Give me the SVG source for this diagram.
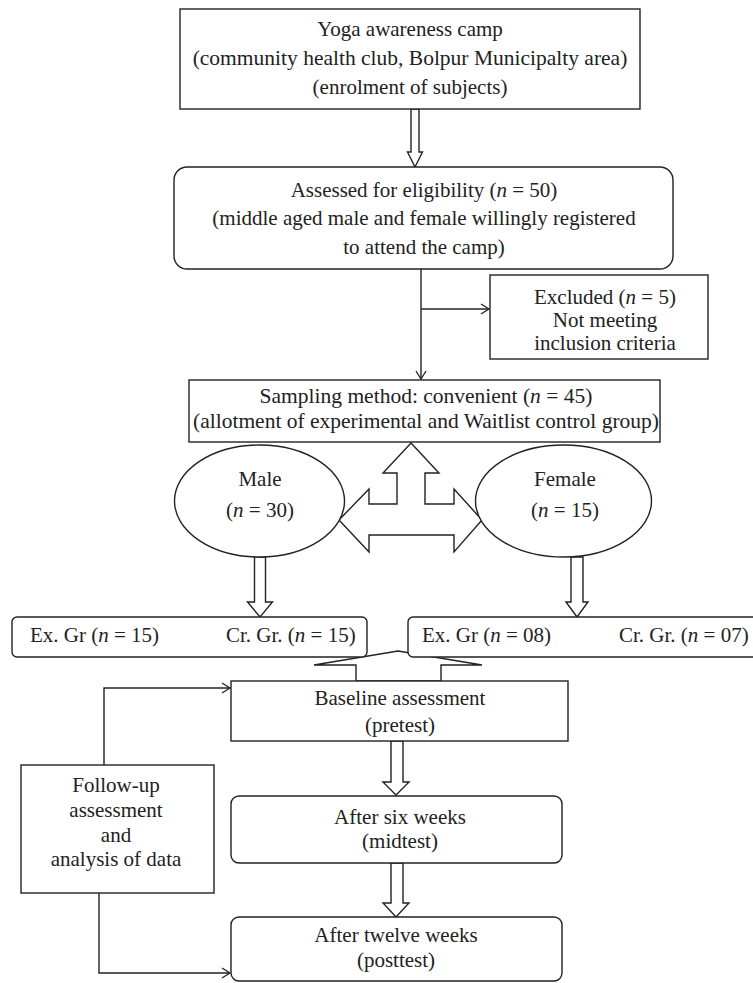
<svg xmlns="http://www.w3.org/2000/svg" width="753" height="983" viewBox="0 0 753 983">
<defs>
<style>
.box{fill:#fff;stroke:#222;stroke-width:1.4}
.blk{fill:#fff;stroke:#222;stroke-width:1.4;stroke-linejoin:miter}
.ln{fill:none;stroke:#222;stroke-width:1.4}
text{font-family:"Liberation Serif","Times New Roman",serif;font-size:21px;fill:#222;text-anchor:middle}
.w{font-size:21.5px}
.l{text-anchor:start}
.i{font-style:italic}
</style>
<marker id="arr" markerWidth="12" markerHeight="12" refX="10" refY="6" orient="auto" markerUnits="userSpaceOnUse">
<path d="M2,1 L10,6 L2,11" fill="none" stroke="#222" stroke-width="1.3"/>
</marker>
</defs>
<rect width="753" height="983" fill="#fff"/>
<g id="connectors">
<polygon class="blk" points="411,109 411,152 407.5,152 415,167 422.5,152 419,152 419,109"/>
<path class="ln" d="M421,269 V379" marker-end="url(#arr)"/>
<path class="ln" d="M421,309 H489" marker-end="url(#arr)"/>
<polygon class="blk" points="411,443 439,473 425,473 425,504 454,504 454,489 482,520 454,552 454,535 369,535 369,552 339,520 369,489 369,504 397,504 397,473 383,473"/>
<polygon class="blk" points="254.5,557 254.5,602 247.5,602 260,617 272.5,602 265.5,602 265.5,557"/>
<polygon class="blk" points="571,557 571,602 566,602 577,617 588,602 583,602 583,557"/>
<polygon class="blk" points="398,651 482,665 441,665 441,681 356,681 356,665 314,665"/>
<polygon class="blk" points="391,741 391,782 383,782 396,795 409,782 403,782 403,741"/>
<polygon class="blk" points="391,863 391,903 383,903 396,917 409,903 403,903 403,863"/>
<path class="ln" d="M104,765 V688 H230" marker-end="url(#arr)"/>
<path class="ln" d="M99,893 V973 H230" marker-end="url(#arr)"/>
</g>
<g id="camp">
<rect class="box" x="180" y="9" width="460" height="100"/>
<text x="410" y="36">Yoga awareness camp</text>
<text class="w" x="410" y="65">(community health club, Bolpur Municipalty area)</text>
<text x="410" y="94">(enrolment of subjects)</text>
</g>
<g id="eligibility">
<rect class="box" x="174" y="167" width="499" height="102" rx="13"/>
<text x="424" y="197">Assessed for eligibility (<tspan class="i">n</tspan> = 50)</text>
<text x="424" y="225">(middle aged male and female willingly registered</text>
<text x="424" y="254">to attend the camp)</text>
</g>
<g id="excluded">
<rect class="box" x="490" y="275" width="218" height="84"/>
<text x="605" y="304">Excluded (<tspan class="i">n</tspan> = 5)</text>
<text x="605" y="327">Not meeting</text>
<text x="605" y="350">inclusion criteria</text>
</g>
<g id="sampling">
<rect class="box" x="189" y="380" width="471" height="62"/>
<text class="w" x="426" y="403">Sampling method: convenient (<tspan class="i">n</tspan> = 45)</text>
<text class="w" x="426" y="428">(allotment of experimental and Waitlist control group)</text>
</g>
<g id="male">
<ellipse class="box" cx="259.5" cy="501" rx="85" ry="56"/>
<text x="260" y="486">Male</text>
<text x="260" y="517">(<tspan class="i">n</tspan> = 30)</text>
</g>
<g id="female">
<ellipse class="box" cx="563.5" cy="501" rx="88" ry="56"/>
<text x="565" y="486">Female</text>
<text x="565" y="517">(<tspan class="i">n</tspan> = 15)</text>
</g>
<g id="male-groups">
<rect class="box" x="12" y="617" width="355" height="40" rx="5"/>
<text class="l" x="30" y="642">Ex. Gr (<tspan class="i">n</tspan> = 15)</text>
<text class="l" x="226" y="642">Cr. Gr. (<tspan class="i">n</tspan> = 15)</text>
</g>
<g id="female-groups">
<rect class="box" x="408" y="617" width="360" height="40" rx="5"/>
<text class="l" x="422" y="642">Ex. Gr (<tspan class="i">n</tspan> = 08)</text>
<text class="l" x="619" y="642">Cr. Gr. (<tspan class="i">n</tspan> = 07)</text>
</g>
<g id="baseline">
<rect class="box" x="231" y="681" width="337" height="60"/>
<text x="400" y="705">Baseline assessment</text>
<text x="400" y="732">(pretest)</text>
</g>
<g id="midtest">
<rect class="box" x="231" y="796" width="331" height="67" rx="8"/>
<text x="400" y="824">After six weeks</text>
<text x="400" y="848">(midtest)</text>
</g>
<g id="posttest">
<rect class="box" x="231" y="917" width="331" height="64" rx="8"/>
<text x="396" y="942">After twelve weeks</text>
<text x="396" y="967">(posttest)</text>
</g>
<g id="followup">
<rect class="box" x="21" y="765" width="193" height="128"/>
<text x="116" y="792">Follow-up</text>
<text x="116" y="817">assessment</text>
<text x="116" y="842">and</text>
<text x="116" y="866">analysis of data</text>
</g>
</svg>
